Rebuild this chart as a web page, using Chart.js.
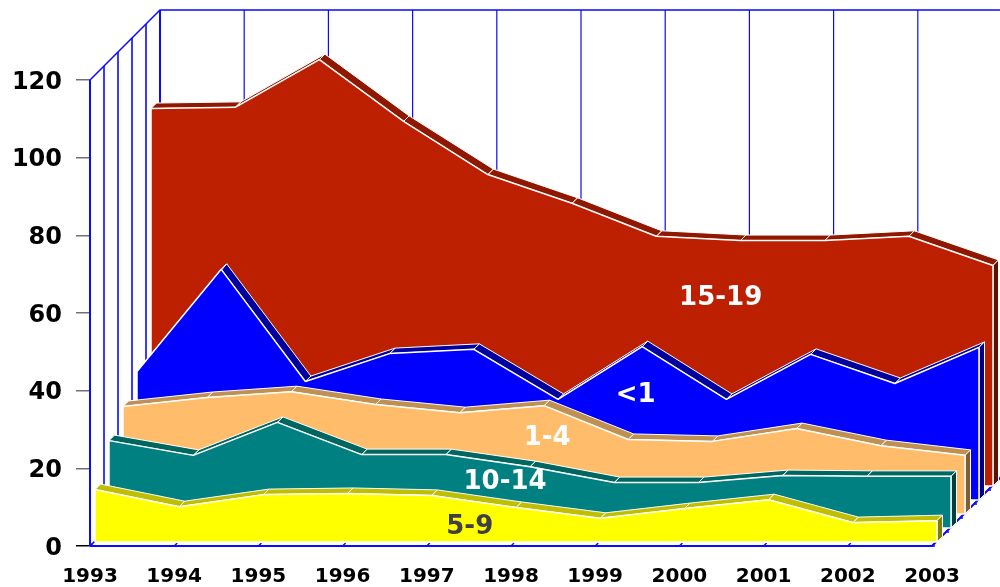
<!DOCTYPE html>
<html>
<head>
<meta charset="utf-8">
<style>
  html, body { margin: 0; padding: 0; background: #fff; }
  canvas { display: block; }
</style>
<script src="https://cdn.jsdelivr.net/npm/chart.js@4"></script>
</head>
<body>
<canvas id="chart" width="1000" height="587"></canvas>
<script>
// === DATA ===
const years = [1993, 1994, 1995, 1996, 1997, 1998, 1999, 2000, 2001, 2002, 2003];
const age59 = [13.5, 9.1, 12.2, 12.5, 12.0, 8.9, 6.1, 8.6, 10.9, 5.0, 5.5];
const age1014 = [22.5, 18.7, 27.2, 18.9, 18.9, 15.8, 11.7, 11.7, 13.5, 13.3, 13.3];
const age14 = [27.7, 30.0, 31.5, 28.2, 26.1, 27.9, 19.2, 18.7, 22.0, 17.6, 15.1];
const ageUnder1 = [33.1, 59.4, 30.5, 37.7, 38.8, 25.9, 39.5, 25.9, 37.5, 30.0, 39.3];
const age1519 = [97.2, 97.5, 109.8, 93.9, 80.2, 72.8, 64.3, 63.2, 63.2, 64.3, 56.8];

// front to back, index 0 is painted last
const seriesNames = ["5-9", "10-14", "1-4", "<1", "15-19"];
const seriesValues = [age59, age1014, age14, ageUnder1, age1519];
const frontColors = ["#ffff00", "#008080", "#ffbd6b", "#0000ff", "#bd2000"];
const topColors = ["#bfbf00", "#006660", "#c09050", "#0000a0", "#901800"];
const sideColors = ["#808000", "#004040", "#806030", "#000080", "#601000"];

// === 3D GEOMETRY (in axis units) ===
const pxPerYear = 84.2;
const pxPerUnit = 3.883;
const levels = 5;
const stepX = 14 / pxPerYear;
const stepY = 14 / pxPerUnit;
const insetX = 5 / pxPerYear;
const insetY = 4 / pxPerUnit;
const ribbonX = 5.5 / pxPerYear;
const ribbonY = 5.5 / pxPerUnit;
const topValue = 120;
const lastYear = years[years.length - 1];

function polygon(points, fillColor, border) {
  return {
    data: points.concat([points[0]]),
    fill: "shape",
    backgroundColor: fillColor,
    borderColor: "#ffffff",
    borderWidth: border,
    borderJoinStyle: "bevel",
    pointRadius: 0,
    tension: 0
  };
}

function wire(points, width) {
  return {
    data: points,
    fill: false,
    clip: false,
    borderColor: "#0a0aff",
    borderWidth: width,
    pointRadius: 0,
    tension: 0
  };
}

const datasets = [];

// === AREAS ===
seriesValues.forEach((values, s) => {
  const ox = insetX + s * stepX;
  const oy = insetY + s * stepY;
  const front = values.map((v, i) => ({ x: years[i] + ox, y: v + oy }));
  const last = front[front.length - 1];

  front.unshift({ x: years[0] + ox, y: oy });
  front.push({ x: lastYear + ox, y: oy });
  datasets.push(polygon(front, frontColors[s], 1.5));

  // right side
  datasets.push(polygon([
    { x: last.x, y: last.y },
    { x: last.x + ribbonX, y: last.y + ribbonY },
    { x: last.x + ribbonX, y: oy + ribbonY },
    { x: last.x, y: oy }
  ], sideColors[s], 1));

  // top ribbon, one piece per year
  for (let i = 0; i < values.length - 1; i++) {
    const x0 = years[i] + ox;
    const x1 = years[i + 1] + ox;
    const y0 = values[i] + oy;
    const y1 = values[i + 1] + oy;
    datasets.push(polygon([
      { x: x0, y: y0 },
      { x: x0 + ribbonX, y: y0 + ribbonY },
      { x: x1 + ribbonX, y: y1 + ribbonY },
      { x: x1, y: y1 }
    ], topColors[s], 1));
  }
});

// === WALLS AND FLOOR ===
const backX = years[0] + levels * stepX;
const backTop = topValue + levels * stepY;
const backBottom = levels * stepY;

years.forEach(yr => {
  datasets.push(wire([{ x: yr + levels * stepX, y: backBottom }, { x: yr + levels * stepX, y: backTop }], yr === years[0] ? 2 : 1.2));
  datasets.push(wire([{ x: yr, y: 0 }, { x: yr + 3 / pxPerYear, y: 3 / pxPerUnit }], 1.5));
});
for (let l = 0; l < levels; l++) {
  datasets.push(wire([{ x: years[0] + l * stepX, y: l * stepY }, { x: years[0] + l * stepX, y: topValue + l * stepY }], l === 0 ? 2 : 1.6));
  datasets.push(wire([{ x: lastYear + l * stepX, y: l * stepY }, { x: lastYear + l * stepX + 3 / pxPerYear, y: l * stepY }], 1.5));
}
datasets.push(wire([{ x: years[0], y: topValue }, { x: backX, y: backTop }, { x: lastYear + levels * stepX, y: backTop }], 1.5));
datasets.push(wire([{ x: years[0], y: 0 }, { x: lastYear, y: 0 }, { x: lastYear + levels * stepX, y: backBottom }], 2));
datasets.push(wire([{ x: years[0], y: 0 }, { x: backX, y: backBottom }], 1.5));

// === LABELS ON THE AREAS ===
const seriesLabelYears = [1997.51, 1997.93, 1998.43, 1999.48, 2000.49];
const seriesLabelValues = [4.8, 16.4, 27.8, 38.8, 63.8];
const seriesLabelColors = ["#404040", "#ffffff", "#ffffff", "#ffffff", "#ffffff"];

const areaLabels = {
  id: "areaLabels",
  afterDatasetsDraw(chart) {
    const { ctx, scales } = chart;
    ctx.save();
    ctx.font = "bold 26px 'DejaVu Sans'";
    ctx.textAlign = "center";
    ctx.textBaseline = "middle";
    seriesNames.forEach((name, i) => {
      ctx.fillStyle = seriesLabelColors[i];
      ctx.fillText(name, scales.x.getPixelForValue(seriesLabelYears[i]), scales.y.getPixelForValue(seriesLabelValues[i]));
    });
    ctx.restore();
  }
};

// === CHART ===
new Chart(document.getElementById("chart"), {
  type: "line",
  data: { datasets: datasets },
  plugins: [areaLabels],
  options: {
    responsive: false,
    animation: false,
    layout: { autoPadding: false, padding: { top: 10, right: 0, bottom: 0, left: 0 } },
    plugins: { legend: { display: false }, tooltip: { enabled: false } },
    scales: {
      x: {
        type: "linear",
        min: years[0],
        max: years[0] + 910 / pxPerYear,
        afterFit: scale => {
          scale.height = 41;
          scale.paddingLeft = 0;
          scale.paddingRight = 0;
        },
        grid: { display: false },
        border: { display: false },
        ticks: {
          stepSize: 1,
          includeBounds: false,
          autoSkip: false,
          maxRotation: 0,
          padding: 11,
          color: "#000000",
          font: { family: "DejaVu Sans", size: 20, weight: "bold" },
          callback: v => String(v)
        }
      },
      y: {
        min: 0,
        max: backTop,
        afterFit: scale => {
          scale.width = 90;
          scale.paddingTop = 0;
          scale.paddingBottom = 0;
        },
        border: { display: false },
        grid: {
          drawOnChartArea: false,
          tickLength: 14,
          lineWidth: 1.5,
          color: ctx => (ctx.tick && ctx.tick.value === 0 ? "#000000" : "#707070")
        },
        ticks: {
          stepSize: 20,
          includeBounds: false,
          padding: 14,
          color: "#000000",
          // two lines with a small line height push the number down to its tick
          font: { family: "DejaVu Sans", size: 24, weight: "bold", lineHeight: "5px" },
          callback: v => ["", String(v)]
        }
      }
    }
  }
});
</script>
</body>
</html>
